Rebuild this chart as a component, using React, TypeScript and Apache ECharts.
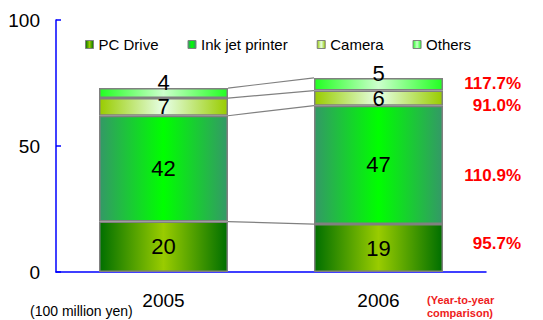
import React, { useEffect, useRef } from 'react';
import * as echarts from 'echarts';

const years = ['2005', '2006'];
const seriesNames = ['PC Drive', 'Ink jet printer', 'Camera', 'Others'];
const pcDrive = [20, 19];
const inkJet = [42, 47];
const camera = [7, 6];
const others = [4, 5];
const yoyLabels = ['117.7%', '91.0%', '110.9%', '95.7%'];
const unitLabel = '(100 million yen)';
const yoyTitle = ['(Year-to-year', 'comparison)'];

const FONT = '"Liberation Sans", Arial, sans-serif';

const grad = (edge: string, mid: string) =>
  new echarts.graphic.LinearGradient(0, 0, 1, 0, [
    { offset: 0, color: edge },
    { offset: 0.5, color: mid },
    { offset: 1, color: edge },
  ]);

export default function App() {
  const ref = useRef<HTMLDivElement>(null);
  useEffect(() => {
    if (!ref.current) return;
    const chart = echarts.init(ref.current, null, { renderer: 'svg' });
    const values = [pcDrive, inkJet, camera, others];
    const fills = [
      grad('#006f00', '#99cc00'),
      grad('#339966', '#00ff00'),
      grad('#99cc00', '#e6ffe6'),
      grad('#22ff22', '#ccffcc'),
    ];
    const cum: number[][] = [];
    let run = [0, 0];
    values.forEach((v) => {
      run = [run[0] + v[0], run[1] + v[1]];
      cum.push([0, run[0], run[1]]);
    });
    const barSeries = values.map((v, i) => ({
      name: seriesNames[i],
      type: 'bar',
      stack: 'total',
      barWidth: '60%',
      data: v,
      itemStyle: { color: fills[i], borderColor: '#808080', borderWidth: 1.5 },
      label: {
        show: true,
        position: 'inside',
        color: '#000',
        fontSize: 22,
        fontFamily: FONT,
        offset: i === 3 ? [0, -11] : [0, 0],
      },
    }));
    const lineSeries = {
      type: 'custom',
      name: 'serieslines',
      data: cum,
      encode: { x: 0, y: 1 },
      silent: true,
      renderItem: (params: any, api: any) => {
        const band = api.size([1, 0])[0];
        const p0 = api.coord([0, api.value(1)]);
        const p1 = api.coord([1, api.value(2)]);
        return {
          type: 'line',
          shape: { x1: p0[0] + band * 0.3, y1: p0[1], x2: p1[0] - band * 0.3, y2: p1[1] },
          style: { stroke: '#808080', lineWidth: 1.2 },
        };
      },
    };
    const yoyYs = [85, 107, 177, 245];
    chart.setOption({
      animation: false,
      textStyle: { fontFamily: FONT },
      grid: { left: 56, top: 20, width: 430, height: 252 },
      legend: {
        data: seriesNames,
        left: 80,
        top: 32,
        itemWidth: 8,
        itemHeight: 8,
        itemGap: 29,
        icon: 'rect',
        textStyle: { fontSize: 15, color: '#000', fontFamily: FONT },
        itemStyle: { borderColor: '#808080', borderWidth: 1 },
      },
      xAxis: {
        type: 'category',
        data: years,
        axisLine: { lineStyle: { color: '#0000ff', width: 1.5 } },
        axisTick: { inside: true, length: 6, lineStyle: { color: '#0000ff', width: 1.5 } },
        axisLabel: { fontSize: 19, color: '#000', margin: 19, fontFamily: FONT },
      },
      yAxis: {
        type: 'value',
        min: 0,
        max: 100,
        interval: 50,
        axisLine: { show: true, lineStyle: { color: '#0000ff', width: 1.5 } },
        axisTick: { show: true, inside: true, length: 5, lineStyle: { color: '#0000ff', width: 1.5 } },
        splitLine: { show: false },
        axisLabel: { fontSize: 19, color: '#000', margin: 16, fontFamily: FONT },
      },
      series: [...barSeries, lineSeries],
      graphic: [
        ...yoyLabels.map((t, i) => ({
          type: 'text',
          right: 22,
          top: yoyYs[i] - 10,
          style: { text: t, fill: '#ff0000', font: `bold 17px ${FONT}` },
        })),
        {
          type: 'text',
          left: 30,
          top: 304,
          style: { text: unitLabel, fill: '#000', font: `14px ${FONT}` },
        },
        {
          type: 'text',
          left: 427,
          top: 293,
          style: { text: yoyTitle.join('\n'), fill: '#ee1c1c', font: `bold 11px ${FONT}`, lineHeight: 13 },
        },
      ],
    });
    return () => chart.dispose();
  }, []);
  return (
    <div
      ref={ref}
      style={{ position: 'absolute', left: 0, top: 0, width: 543, height: 320, background: '#fff' }}
    />
  );
}
